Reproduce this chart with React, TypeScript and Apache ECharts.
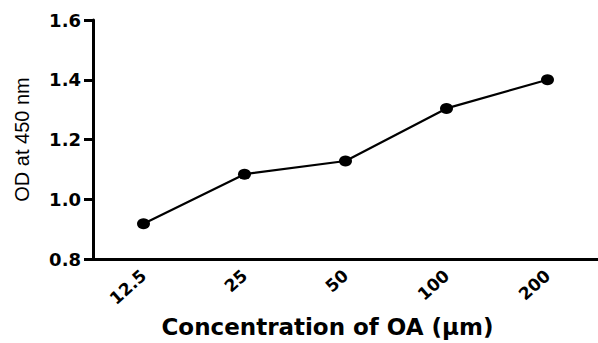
import React, { useEffect, useRef } from "react";
import * as echarts from "echarts";

const categories = ["12.5", "25", "50", "100", "200"];
const odValues = [0.918, 1.084, 1.128, 1.304, 1.4];
const yTicks = { min: 0.8, max: 1.6, interval: 0.2 };

export default function App() {
  const ref = useRef<HTMLDivElement>(null);
  useEffect(() => {
    document.body.style.margin = "0";
    const chart = echarts.init(ref.current!, null, { renderer: "svg" });
    const bold = "'DejaVu Sans', sans-serif";
    const reg = "'Liberation Sans', Arial, sans-serif";
    chart.setOption({
      animation: false,
      backgroundColor: "#ffffff",
      grid: { left: 93, right: 0, top: 20, bottom: 78, containLabel: false },
      xAxis: {
        type: "category",
        data: categories,
        boundaryGap: true,
        name: "Concentration of OA (μm)",
        nameLocation: "middle",
        nameGap: 56,
        nameTextStyle: {
          fontFamily: bold, fontWeight: "bold", fontSize: 23, color: "#000",
          padding: [0, 36, 0, 0],
        },
        axisLine: { lineStyle: { color: "#000", width: 3 } },
        axisTick: { alignWithLabel: true, length: 7, lineStyle: { color: "#000", width: 3 } },
        axisLabel: { rotate: 42, fontFamily: bold, fontWeight: "bold", fontSize: 17, color: "#000", margin: 14 },
        splitLine: { show: false },
      },
      yAxis: {
        type: "value",
        min: yTicks.min,
        max: yTicks.max,
        interval: yTicks.interval,
        name: "OD at 450 nm",
        nameLocation: "middle",
        nameGap: 61,
        nameTextStyle: { fontFamily: reg, fontSize: 20, color: "#000" },
        axisLine: { show: true, lineStyle: { color: "#000", width: 3 } },
        axisTick: { show: true, length: 9, lineStyle: { color: "#000", width: 3 } },
        axisLabel: {
          fontFamily: bold, fontWeight: "bold", fontSize: 18, color: "#000", margin: 12,
          formatter: (v: number) => v.toFixed(1),
        },
        splitLine: { show: false },
      },
      series: [
        {
          type: "line",
          data: odValues,
          symbol: "circle",
          symbolSize: [13, 11],
          itemStyle: { color: "#000" },
          lineStyle: { color: "#000", width: 2.2 },
        },
      ],
    });
    return () => chart.dispose();
  }, []);
  return <div ref={ref} style={{ width: 598, height: 343 }} />;
}
